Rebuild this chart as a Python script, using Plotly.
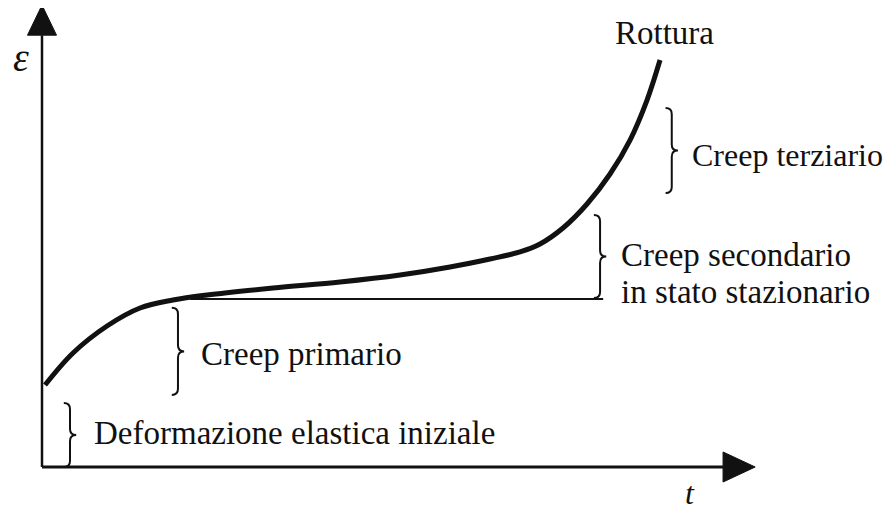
import plotly.graph_objects as go

# ---- data (schematic creep curve: strain vs time, arbitrary units) ----
time_values = [0.049, 0.502, 1.052, 1.586, 2.120, 2.670, 3.738, 4.822, 5.793, 6.602,
               7.249, 7.735, 8.058, 8.430, 8.819, 9.191, 9.515, 9.790, 10.0]
strain_values = [2.015, 2.801, 3.464, 3.907, 4.103, 4.226, 4.398, 4.545, 4.717, 4.914,
                 5.111, 5.283, 5.479, 5.872, 6.462, 7.199, 8.034, 9.017, 10.0]

# steady-state reference line
steady_t = [2.4, 9.08]
steady_eps = [4.13, 4.13]

# braces: (x position, top, bottom)
brace_x = [0.453, 2.20, 9.03, 10.19]
brace_top = [1.57, 3.91, 6.19, 8.82]
brace_bottom = [0.0, 1.77, 4.15, 6.73]

# labels
label_texts = ["Deformazione elastica iniziale", "Creep primario", "Creep secondario",
               "in stato stazionario", "Creep terziario"]
label_t = [0.825, 2.557, 9.353, 9.353, 10.50]
label_eps = [0.835, 2.78, 5.21, 4.30, 7.67]
label_sizes = [33, 33, 33, 33, 32]

rupture_text = "Rottura"
rupture_t, rupture_eps = 10.065, 10.66
y_label, x_label = "ε", "t"

# ---- figure ----
FONT = "Liberation Serif, Times New Roman, serif"
INK = "#111111"

fig = go.Figure()
fig.add_trace(go.Scatter(x=time_values, y=strain_values, mode="lines",
                         line=dict(color=INK, width=5, shape="spline", smoothing=1.0),
                         hoverinfo="skip", showlegend=False))
fig.add_trace(go.Scatter(x=steady_t, y=steady_eps, mode="lines",
                         line=dict(color=INK, width=2), hoverinfo="skip", showlegend=False))

shapes = []
# axes
y_arrow_base, x_arrow_base = 10.61, 11.02
shapes.append(dict(type="line", x0=0, y0=0, x1=0, y1=y_arrow_base, xref="x", yref="y",
                   line=dict(color=INK, width=2.5)))
shapes.append(dict(type="line", x0=0, y0=0, x1=x_arrow_base, y1=0, xref="x", yref="y",
                   line=dict(color=INK, width=3)))
# arrow heads
shapes.append(dict(type="path", xref="x", yref="y",
                   path=f"M -0.235 {y_arrow_base} L 0.235 {y_arrow_base} L 0 11.35 Z",
                   fillcolor=INK, line=dict(color=INK, width=1)))
shapes.append(dict(type="path", xref="x", yref="y",
                   path=f"M {x_arrow_base} -0.369 L {x_arrow_base} 0.369 L 11.54 0 Z",
                   fillcolor=INK, line=dict(color=INK, width=1)))


def brace(xc, top, bot, h=0.1, p=0.1, c=0.15):
    mid = (top + bot) / 2
    return (f"M {xc-h} {top} Q {xc} {top} {xc} {top-c} "
            f"L {xc} {mid+c} Q {xc} {mid} {xc+p} {mid} "
            f"Q {xc} {mid} {xc} {mid-c} "
            f"L {xc} {bot+c} Q {xc} {bot} {xc-h} {bot}")


for bx, bt, bb in zip(brace_x, brace_top, brace_bottom):
    shapes.append(dict(type="path", xref="x", yref="y", path=brace(bx, bt, bb),
                       line=dict(color=INK, width=2)))

annotations = []
for txt, tx, ty, sz in zip(label_texts, label_t, label_eps, label_sizes):
    annotations.append(dict(x=tx, y=ty, text=txt, showarrow=False, xanchor="left",
                            yanchor="middle", borderpad=0,
                            font=dict(family=FONT, size=sz, color=INK)))
annotations.append(dict(x=rupture_t, y=rupture_eps, text=rupture_text, showarrow=False,
                        xanchor="center", yanchor="middle",
                        font=dict(family=FONT, size=33, color=INK)))
annotations.append(dict(x=-0.34, y=10.05, text=f"<i>{y_label}</i>", showarrow=False,
                        xanchor="center", yanchor="middle",
                        font=dict(family=FONT, size=40, color=INK)))
annotations.append(dict(x=10.49, y=-1.10, text=f"<i>{x_label}</i>", showarrow=False,
                        xanchor="center", yanchor="bottom", borderpad=0,
                        font=dict(family=FONT, size=32, color=INK)))

# the page body has an 8px margin, so the figure is sized/ranged to compensate
fig.update_layout(
    width=886, height=504,
    margin=dict(l=0, r=0, t=0, b=0),
    paper_bgcolor="white", plot_bgcolor="white",
    xaxis=dict(range=[-0.5502, 13.786], visible=False, fixedrange=True),
    yaxis=dict(range=[-1.1057, 11.278], visible=False, fixedrange=True),
    shapes=shapes, annotations=annotations, showlegend=False,
)

fig.write_html("out.html")
